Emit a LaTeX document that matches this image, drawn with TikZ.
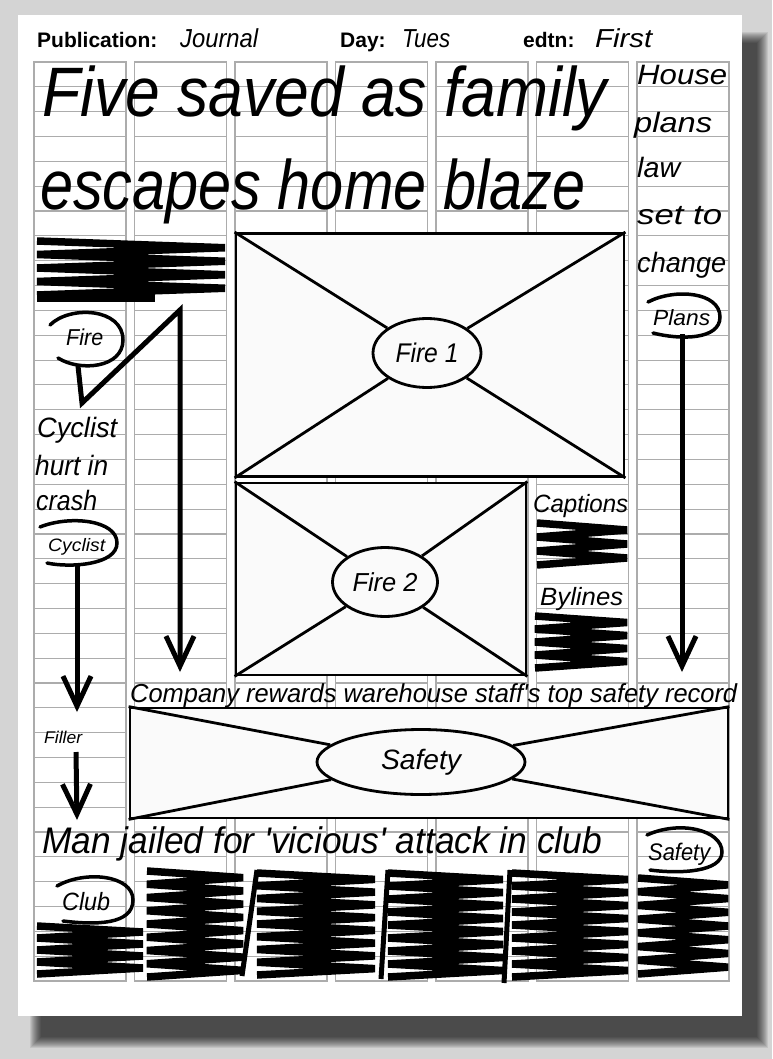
\documentclass[tikz,border=0pt]{standalone}
\usepackage{fontspec}
\usepackage{graphicx}
\usetikzlibrary{arrows.meta, shapes.geometric}
\setmainfont{Liberation Sans}
\newfontfamily\handfont{Liberation Sans}
\definecolor{bggray}{RGB}{212,212,212}
\definecolor{gridgray}{RGB}{172,172,172}
\definecolor{boxfill}{RGB}{250,250,250}
% handwritten text squeezed to a given width
\newcommand{\hw}[3]{\resizebox{#1pt}{\height}{\fontsize{#2}{#2}\selectfont\handfont\itshape #3}}
\newcommand{\scribble}[5]{%
  \draw[scrib] (#1,#3) \foreach \i in {1,...,#5}{ -- (#2,{#3+(2*\i-1)*(#4-#3)/(2*#5)}) -- (#1,{#3+\i*(#4-#3)/#5}) };}

\begin{document}
\begin{tikzpicture}[x=1pt, y=-1pt,
  headlbl/.style={inner sep=0pt, anchor=base west, font=\fontsize{21}{21}\selectfont\bfseries},
  handtxt/.style={inner sep=0pt, anchor=base west},
  picbox/.style={draw, line width=2.8pt, fill=boxfill},
  pictag/.style={ellipse, draw, line width=2.8pt, fill=boxfill, inner sep=0pt},
  xline/.style={line width=2.8pt},
  scrib/.style={line width=7.5pt, line join=bevel},
  bracket/.style={line width=5pt},
  loopline/.style={line width=3.5pt, line cap=round},
  bigarrow/.style={line width=5pt, -{Straight Barb[length=30pt, width=28pt]}},
  gridline/.style={gridgray, line width=1.1pt}
]
  \useasboundingbox[fill=bggray] (0,0) rectangle (772,1059);
  \foreach \k in {0,...,11}
    \fill[black, opacity=0.08] ({30+\k},{32+\k}) rectangle ({768-\k},{1048-\k});
  \fill[white] (18,15) rectangle (742,1016);

  \foreach \c in {0,...,6} {
    \draw[gridline] ({34+100.5*\c},62) rectangle ({126+100.5*\c},981);
    \foreach \r in {1,...,36}
      \draw[gridline] ({34+100.5*\c},{62+24.84*\r}) -- ({126+100.5*\c},{62+24.84*\r});
  }

  \node[headlbl] (pub)   at (37,48)  {Publication:};
  \node[handtxt] (pubv)  at (180,48) {\hw{78}{26}{Journal}};
  \node[headlbl] (day)   at (340,48) {Day:};
  \node[handtxt] (dayv)  at (402,48) {\hw{48}{26}{Tues}};
  \node[headlbl] (edtn)  at (523,48) {edtn:};
  \node[handtxt] (edtnv) at (595,48) {\hw{57}{26}{First}};

  \node[handtxt] (headA) at (42,117) {\hw{565}{70}{Five saved as family}};
  \node[handtxt] (headB) at (40,210) {\hw{545}{70}{escapes home blaze}};

  \node[handtxt] (sideA) at (637,85)  {\hw{90}{28}{House}};
  \node[handtxt] (sideB) at (634,133) {\hw{78}{28}{plans}};
  \node[handtxt] (sideC) at (637,178) {\hw{43}{28}{law}};
  \node[handtxt] (sideD) at (637,225) {\hw{85}{28}{set to}};
  \node[handtxt] (sideE) at (637,272) {\hw{89}{28}{change}};

  \node[picbox, minimum width=388pt, minimum height=243pt] (fireA) at (430,355) {};
  \node[pictag, minimum width=108pt, minimum height=69pt] (fireAtag) at (427,353) {\hw{63}{27}{Fire 1}};
  \foreach \a in {north west, north east, south west, south east}
    \draw[xline] (fireA.\a) -- (fireAtag);

  \node[picbox, minimum width=290pt, minimum height=192pt] (fireB) at (381,579) {};
  \node[pictag, minimum width=105pt, minimum height=69pt] (fireBtag) at (385,582) {\hw{65}{26}{Fire 2}};
  \foreach \a in {north west, north east, south west, south east}
    \draw[xline] (fireB.\a) -- (fireBtag);

  \node[handtxt] (safeHead) at (130,702) {\hw{607}{26}{Company rewards warehouse staff's top safety record}};
  \node[picbox, minimum width=598pt, minimum height=110pt] (safe) at (429,763) {};
  \node[pictag, minimum width=208pt, minimum height=65pt] (safetag) at (421,762) {\hw{80}{28}{Safety}};
  \foreach \a in {north west, north east, south west, south east}
    \draw[xline] (safe.\a) -- (safetag);

  \node[handtxt] (clubHead) at (42,853) {\hw{560}{37}{Man jailed for 'vicious' attack in club}};

  \node[handtxt] (cycA) at (37,437) {\hw{80}{28}{Cyclist}};
  \node[handtxt] (cycB) at (35,475) {\hw{73}{28}{hurt in}};
  \node[handtxt] (cycC) at (36,510) {\hw{61}{28}{crash}};

  \node[handtxt] (capt) at (533,512) {\hw{95}{25}{Captions}};
  \node[handtxt] (byl)  at (540,605) {\hw{83}{25}{Bylines}};

  \scribble{37}{225}{241}{295}{4}
  \draw[scrib] (37,298) -- (155,298);
  \scribble{537}{627}{523}{565}{3}
  \scribble{535}{627}{616}{668}{4}
  \scribble{37}{143}{926}{974}{4}
  \scribble{147}{243}{871}{977}{8}
  \scribble{257}{375}{873}{975}{8}
  \scribble{388}{503}{873}{977}{8}
  \scribble{512}{628}{873}{977}{8}
  \scribble{638}{728}{878}{974}{7}
  \draw[bracket] (257,870) -- (242,976);
  \draw[bracket] (388,870) -- (381,979);
  \draw[bracket] (510,870) -- (504,983);

  \node[handtxt] (fireTag) at (66,345) {\hw{37}{23}{Fire}};
  \draw[loopline] (50,325) .. controls (70,305) and (123,308) .. (123,340) .. controls (123,368) and (80,372) .. (58,358);
  \coordinate (fireTail) at (78,366);
  \coordinate (fireEnd) at (180,672);
  \draw[bigarrow] (fireTail) -- (82,403) -- (180,310) -- (fireEnd);

  \node[handtxt] (cycTag) at (48,551) {\hw{57}{18}{Cyclist}};
  \draw[loopline] (40,527) .. controls (70,515) and (117,520) .. (117,543) .. controls (117,565) and (70,568) .. (47,563);
  \coordinate (cycTail) at (77,565);
  \coordinate (cycEnd) at (77,712);
  \draw[bigarrow] (cycTail) -- (cycEnd);

  \node[handtxt] (filler) at (44,743) {\hw{38}{17}{Filler}};
  \coordinate (fillTail) at (76,752);
  \coordinate (fillEnd) at (77,820);
  \draw[bigarrow] (fillTail) -- (fillEnd);

  \node[handtxt] (planTag) at (653,325) {\hw{57}{22}{Plans}};
  \draw[loopline] (648,302) .. controls (675,288) and (720,292) .. (720,317) .. controls (720,340) and (680,340) .. (653,333);
  \coordinate (planTail) at (682,334);
  \coordinate (planEnd) at (682,672);
  \draw[bigarrow] (planTail) -- (planEnd);

  \node[handtxt] (clubTag) at (62,910) {\hw{48}{25}{Club}};
  \draw[loopline] (57,886) .. controls (85,870) and (133,875) .. (133,900) .. controls (133,925) and (95,925) .. (63,921);

  \node[handtxt] (safeTag) at (648,860) {\hw{62}{24}{Safety}};
  \draw[loopline] (647,835) .. controls (680,820) and (722,830) .. (722,852) .. controls (722,872) and (680,874) .. (650,870);
\end{tikzpicture}
\end{document}
